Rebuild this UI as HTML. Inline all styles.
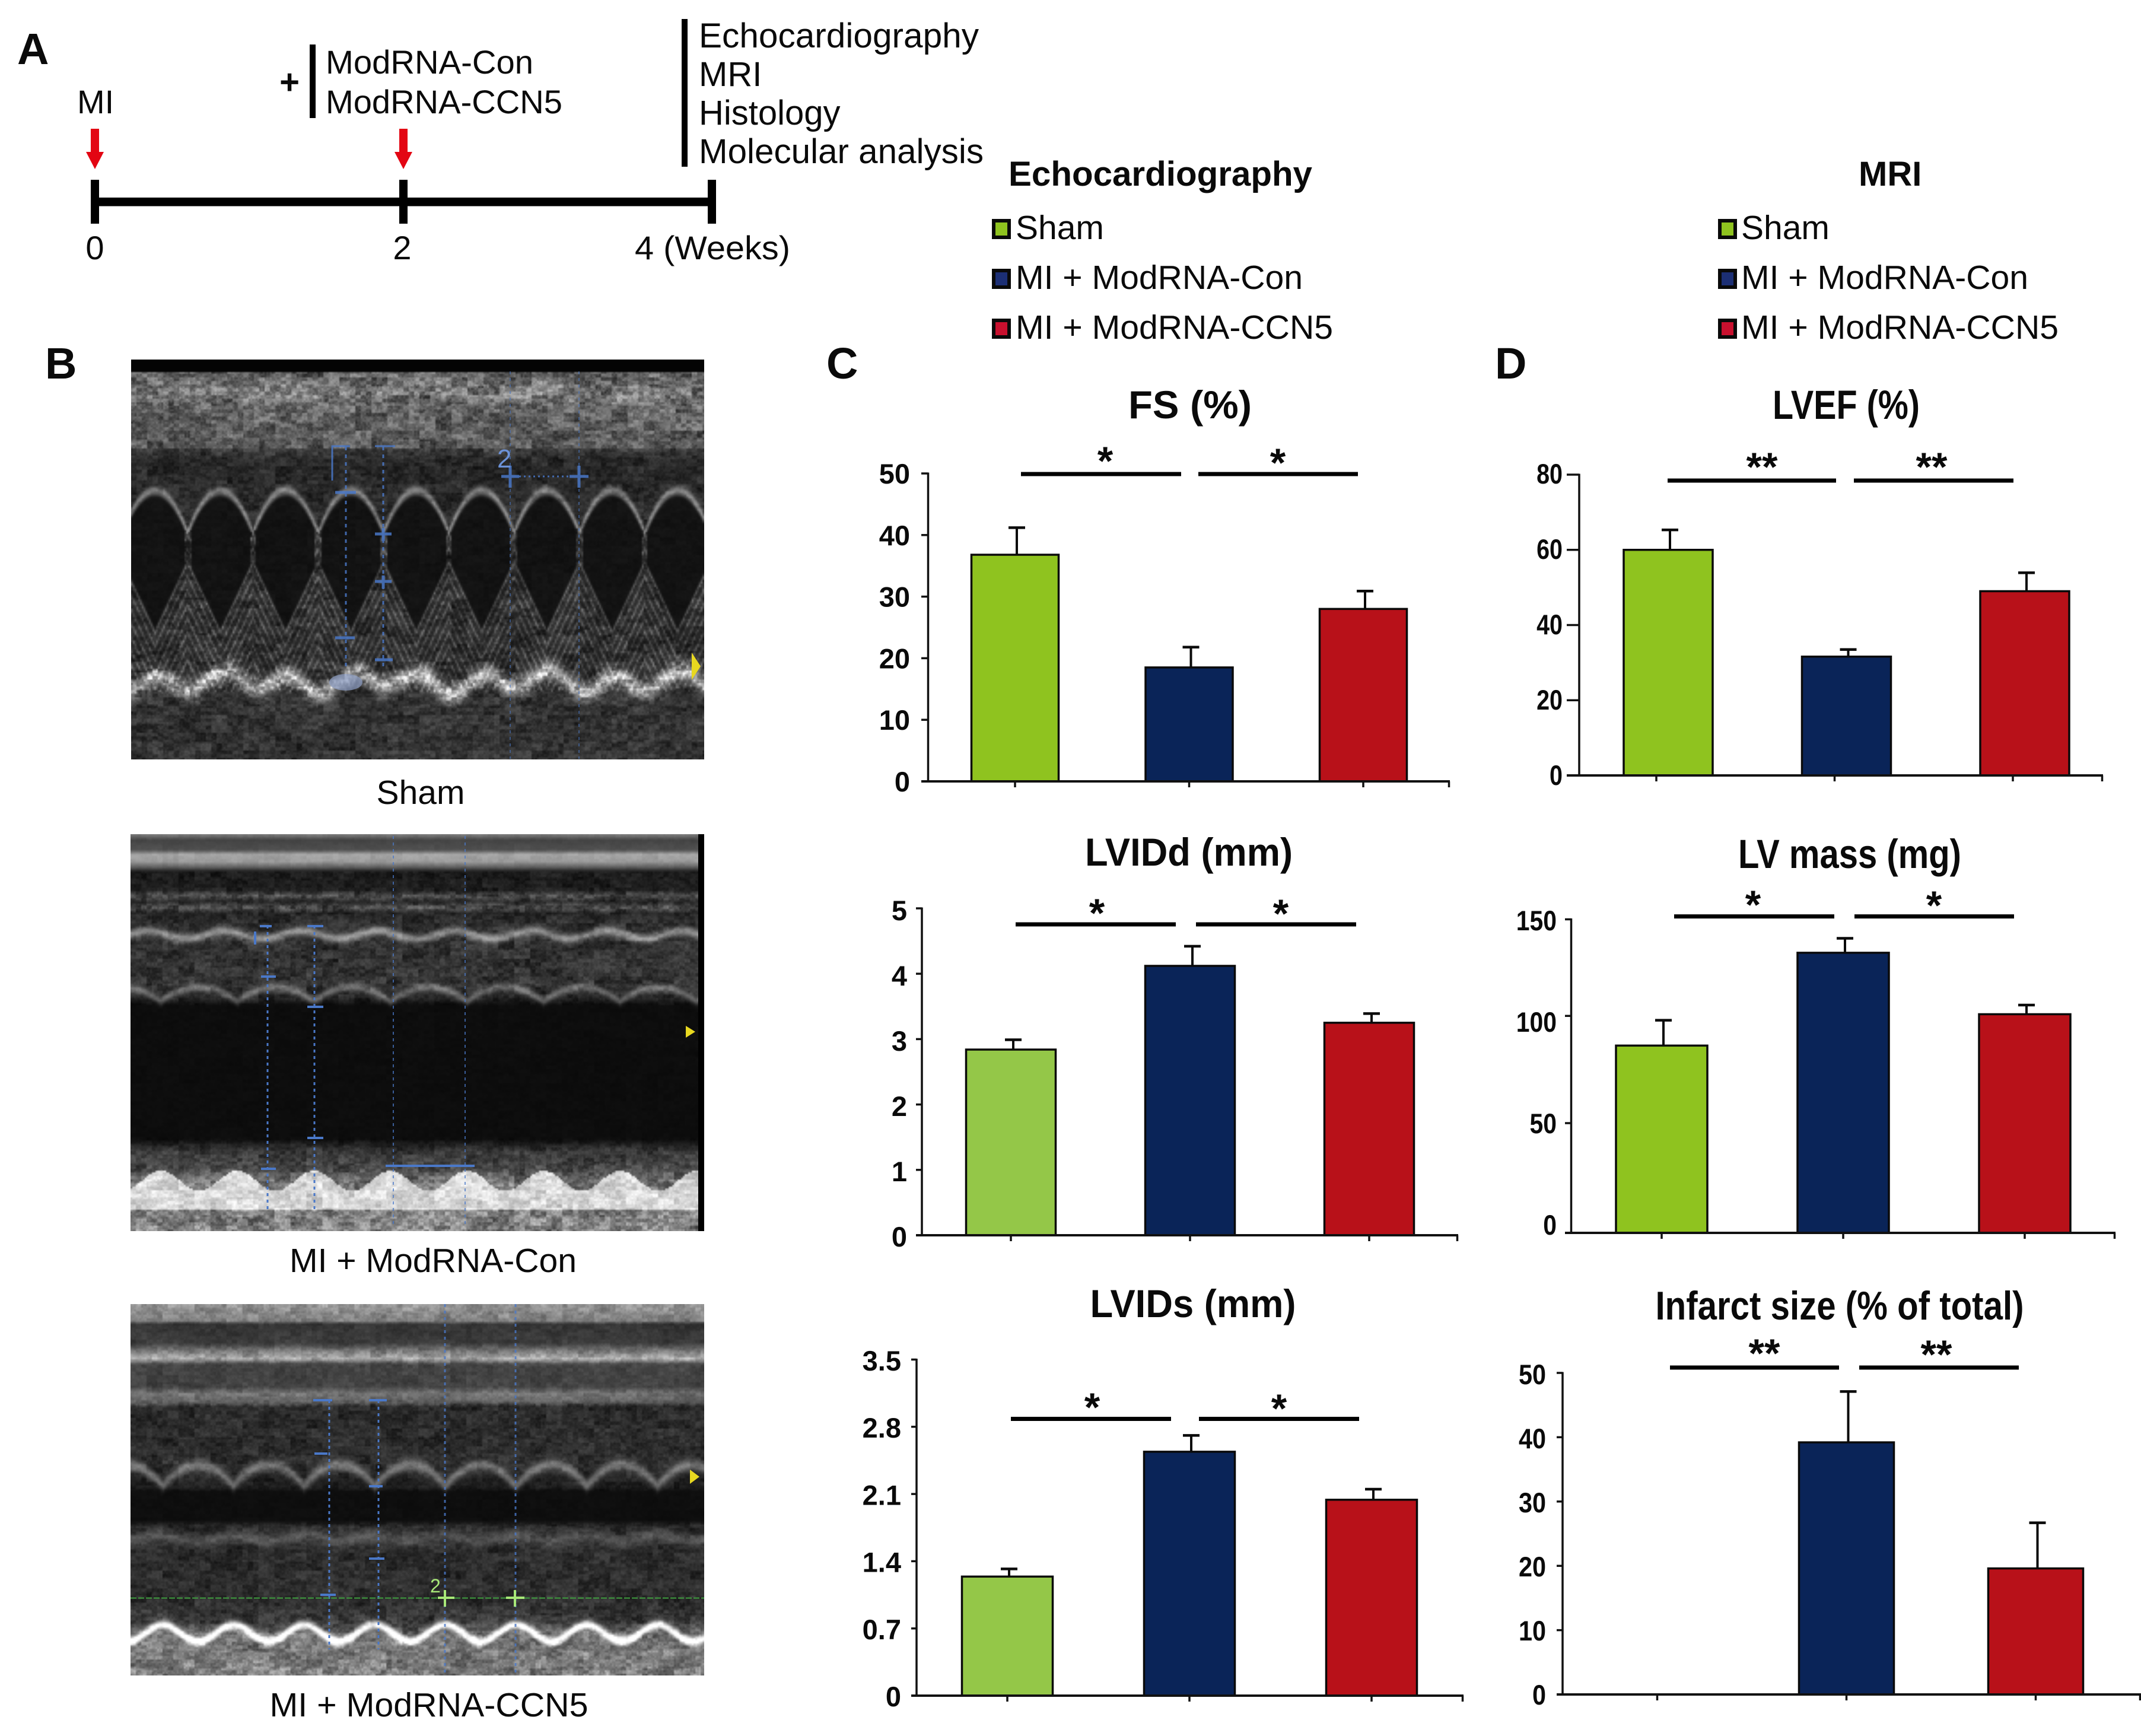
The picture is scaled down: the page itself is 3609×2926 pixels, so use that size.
<!DOCTYPE html>
<html lang="en">
<head>
<meta charset="utf-8">
<title>ModRNA-CCN5 figure</title>
<style>
html,body{margin:0;padding:0;background:#fff;}
#figure{position:relative;width:3609px;height:2926px;overflow:hidden;background:#fff;font-family:"Liberation Sans",Arial,sans-serif;}
canvas{position:absolute;display:block;}
svg{position:absolute;left:0;top:0;}
text{font-family:"Liberation Sans",Arial,sans-serif;fill:#0a0a0a;}
.b{font-weight:bold;}
</style>
</head>
<body>
<div id="figure">
<canvas id="echo-sham" width="322" height="225" style="left:221px;top:606px;width:966px;height:674px"></canvas>
<canvas id="echo-con" width="323" height="223" style="left:220px;top:1406px;width:967px;height:669px"></canvas>
<canvas id="echo-ccn5" width="323" height="209" style="left:220px;top:2198px;width:967px;height:626px"></canvas>

<svg id="canvas" width="3609" height="2926" viewBox="0 0 3609 2926">
  <!-- Panel A timeline -->
  <g>
    <text class="b" x="29" y="108" font-size="74">A</text>
    <text x="130" y="191" font-size="56">MI</text>
    <text class="b" x="488" y="158" font-size="58" text-anchor="middle">+</text>
    <rect x="522" y="75" width="10" height="124" fill="#000"/>
    <text x="549" y="124" font-size="56" textLength="350" lengthAdjust="spacingAndGlyphs">ModRNA-Con</text>
    <text x="549" y="191" font-size="56" textLength="399" lengthAdjust="spacingAndGlyphs">ModRNA-CCN5</text>
    <rect x="1149" y="32" width="10" height="249" fill="#000"/>
    <text x="1178" y="80" font-size="58" textLength="472" lengthAdjust="spacingAndGlyphs">Echocardiography</text>
    <text x="1178" y="145" font-size="58">MRI</text>
    <text x="1178" y="210" font-size="58">Histology</text>
    <text x="1178" y="275" font-size="58" textLength="480" lengthAdjust="spacingAndGlyphs">Molecular analysis</text>
    <g fill="#e30613">
      <path d="M153 217h14v39h8l-15 29-15-29h8z"/>
      <path d="M673 217h14v39h8l-15 29-15-29h8z"/>
    </g>
    <rect x="160" y="333" width="1040" height="14.5" fill="#000"/>
    <rect x="153" y="303" width="14" height="74" fill="#000"/>
    <rect x="673" y="303" width="14" height="74" fill="#000"/>
    <rect x="1193" y="303" width="14" height="74" fill="#000"/>
    <text x="160" y="437" font-size="56" text-anchor="middle">0</text>
    <text x="678" y="437" font-size="56" text-anchor="middle">2</text>
    <text x="1070" y="437" font-size="56" textLength="262" lengthAdjust="spacingAndGlyphs">4 (Weeks)</text>
  </g>

  <!-- Legends -->
  <g>
    <text class="b" x="1700" y="313" font-size="58" textLength="512" lengthAdjust="spacingAndGlyphs">Echocardiography</text>
    <rect x="1675" y="372" width="26" height="28" fill="#8fc31f" stroke="#0a0a0a" stroke-width="6"/>
    <text x="1712" y="403" font-size="57">Sham</text>
    <rect x="1675" y="456" width="26" height="28" fill="#1c2f75" stroke="#0a0a0a" stroke-width="6"/>
    <text x="1712" y="487" font-size="57" textLength="484" lengthAdjust="spacingAndGlyphs">MI + ModRNA-Con</text>
    <rect x="1675" y="540" width="26" height="28" fill="#c8102e" stroke="#0a0a0a" stroke-width="6"/>
    <text x="1712" y="571" font-size="57" textLength="535" lengthAdjust="spacingAndGlyphs">MI + ModRNA-CCN5</text>
  </g>
  <g>
    <text class="b" x="3133" y="313" font-size="58">MRI</text>
    <rect x="2899" y="372" width="26" height="28" fill="#8fc31f" stroke="#0a0a0a" stroke-width="6"/>
    <text x="2935" y="403" font-size="57">Sham</text>
    <rect x="2899" y="456" width="26" height="28" fill="#1c2f75" stroke="#0a0a0a" stroke-width="6"/>
    <text x="2935" y="487" font-size="57" textLength="484" lengthAdjust="spacingAndGlyphs">MI + ModRNA-Con</text>
    <rect x="2899" y="540" width="26" height="28" fill="#c8102e" stroke="#0a0a0a" stroke-width="6"/>
    <text x="2935" y="571" font-size="57" textLength="535" lengthAdjust="spacingAndGlyphs">MI + ModRNA-CCN5</text>
  </g>

  <text class="b" x="76" y="638" font-size="74">B</text>
  <text class="b" x="1393" y="638" font-size="74">C</text>
  <text class="b" x="2520" y="638" font-size="74">D</text>

  <!-- Echo captions -->
  <text x="709" y="1355" font-size="57" text-anchor="middle">Sham</text>
  <text x="730" y="2144" font-size="57" text-anchor="middle" textLength="484" lengthAdjust="spacingAndGlyphs">MI + ModRNA-Con</text>
  <text x="723" y="2893" font-size="57" text-anchor="middle" textLength="537" lengthAdjust="spacingAndGlyphs">MI + ModRNA-CCN5</text>

  <!-- Echo measurement overlays -->
  <g stroke="#4a78c8" fill="none" opacity=".85">
    <path d="M583 753V1130M646 753V1130" stroke-width="3" stroke-dasharray="6 7"/>
    <path d="M860 626V1279M976 626V1279" stroke-width="2" stroke-dasharray="5 6" opacity=".65"/>
    <path d="M565 830H600M632 900H660M632 980H660M646 890V912M646 970V992M565 1075H598M632 1112H662" stroke-width="5"/>
    <path d="M560 810V752H590M632 752H666" stroke-width="3"/>
    <path d="M845 803H875M960 803H992M860 785V822M976 785V822" stroke-width="5"/>
    <path d="M875 803H960" stroke-width="3" stroke-dasharray="3 5"/>
    <ellipse cx="583" cy="1150" rx="28" ry="14" fill="#8fa0c8" stroke="none" opacity=".8"/>
  </g>
  <text x="838" y="788" font-size="44" style="fill:#6c92d8">2</text>
  <path d="M1166 1100l15 23-15 23z" fill="#e8d820"/>

  <g stroke="#4a78c8" fill="none">
    <path d="M451 1560V2044M530 1560V2044" stroke-width="3" stroke-dasharray="5 6"/>
    <path d="M663 1409V2069M784 1409V2069" stroke-width="2" stroke-dasharray="5 6" opacity=".75"/>
    <path d="M438 1561H458M518 1561H545M430 1570V1592M440 1646H465M518 1697H545M518 1918H545M440 1970H465M650 1965H800" stroke-width="4"/>
  </g>
  <path d="M1156 1729l16 10-16 10z" fill="#e8d820"/>
  <rect x="1177" y="1406" width="10" height="669" fill="#000"/>

  <g stroke="#4a78c8" fill="none">
    <path d="M555 2360V2780M638 2360V2780" stroke-width="3" stroke-dasharray="5 6"/>
    <path d="M750 2198V2824M869 2198V2824" stroke-width="3" stroke-dasharray="5 6" opacity=".8"/>
    <path d="M528 2360H560M622 2360H652M530 2450H552M622 2505H645M622 2627H648M540 2688H566" stroke-width="4"/>
  </g>
  <g stroke="#3f9f3f" fill="none">
    <path d="M220 2693.5H1187" stroke-width="2" stroke-dasharray="10 3"/>
    <path d="M738 2693H766M750 2680V2708M853 2693H884M868 2680V2708" stroke-width="4" stroke="#a8e878"/>
  </g>
  <text x="725" y="2684" font-size="32" style="fill:#a8e878">2</text>
  <path d="M1163 2477l16 12-16 12z" fill="#e8d820"/>

  <g id="charts"></g>
</svg>
</div>

<script>
// ---------- chart data ----------
const categories = ['Sham', 'MI + ModRNA-Con', 'MI + ModRNA-CCN5'];

const fsValues = [36.8, 18.5, 28.0];
const fsErrorTops = [41.2, 21.8, 30.9];
const fsTickValues = [0, 10, 20, 30, 40, 50];
const fsTickLabels = ['0', '10', '20', '30', '40', '50'];

const lviddValues = [2.84, 4.12, 3.25];
const lviddErrorTops = [2.99, 4.42, 3.39];
const lviddTickValues = [0, 1, 2, 3, 4, 5];
const lviddTickLabels = ['0', '1', '2', '3', '4', '5'];

const lvidsValues = [1.24, 2.54, 2.04];
const lvidsErrorTops = [1.32, 2.71, 2.15];
const lvidsTickValues = [0, 0.7, 1.4, 2.1, 2.8, 3.5];
const lvidsTickLabels = ['0', '0.7', '1.4', '2.1', '2.8', '3.5'];

const lvefValues = [60.0, 31.6, 49.0];
const lvefErrorTops = [65.3, 33.5, 53.9];
const lvefTickValues = [0, 20, 40, 60, 80];
const lvefTickLabels = ['0', '20', '40', '60', '80'];

const lvmassValues = [89.6, 134.0, 104.6];
const lvmassErrorTops = [101.7, 140.9, 109.0];
const lvmassTickValues = [0, 52.5, 103.8, 150];
const lvmassTickLabels = ['0', '50', '100', '150'];

const infarctValues = [null, 39.2, 19.6];
const infarctErrorTops = [null, 47.1, 26.7];
const infarctTickValues = [0, 10, 20, 30, 40, 50];
const infarctTickLabels = ['0', '10', '20', '30', '40', '50'];

// ---------- chart layout (not data) ----------
const panels = [
  {id:'fs', title:'FS (%)', titleSize:66, titleX:2006, titleY:705, titleW:208, values:fsValues, tops:fsErrorTops, ticks:fsTickValues, labels:fsTickLabels, yMax:50,
   axisX:1564.5, yTop:798, y0:1317, left:1553, end:2444, cat0:1711, step:293.5, barW:147, errDx:3, tickDx:0, labelRight:1534, labelCond:1, label0:1318, labelTop:799,
   sigY:799, sig:[[1721,1991],[2020,2289]], star:'*', starPos:[[1863,768],[2154,771]], green:'#8fc31f'},
  {id:'lvidd', title:'LVIDd (mm)', titleSize:66, titleX:2004, titleY:1459, titleW:350, values:lviddValues, tops:lviddErrorTops, ticks:lviddTickValues, labels:lviddTickLabels, yMax:5,
   axisX:1554, yTop:1531, y0:2082, left:1544, end:2458, cat0:1704, step:302, barW:151, errDx:4, tickDx:0, labelRight:1529, labelCond:1, label0:2085, labelTop:1535,
   sigY:1558, sig:[[1712,1982],[2016,2286]], star:'*', starPos:[[1849,1530],[2159,1531]], green:'#94c748'},
  {id:'lvids', title:'LVIDs (mm)', titleSize:66, titleX:2011, titleY:2220, titleW:347, values:lvidsValues, tops:lvidsErrorTops, ticks:lvidsTickValues, labels:lvidsTickLabels, yMax:3.5,
   axisX:1545, yTop:2291.5, y0:2858, left:1536, end:2467, cat0:1698, step:307, barW:153, errDx:3, tickDx:0, labelRight:1519, labelCond:1, label0:2860, labelTop:2294,
   sigY:2391.5, sig:[[1704,1974],[2021,2291]], star:'*', starPos:[[1841,2363],[2156,2365]], green:'#94c748'},
  {id:'lvef', title:'LVEF (%)', titleSize:69, titleX:3112, titleY:706, titleW:248, values:lvefValues, tops:lvefErrorTops, ticks:lvefTickValues, labels:lvefTickLabels, yMax:80,
   axisX:2662, yTop:800, y0:1307, left:2641, end:3545, cat0:2812, step:300.5, barW:150, errDx:3, tickDx:-20, labelRight:2634, labelCond:0.84, label0:1307, labelTop:799,
   sigY:810, sig:[[2811,3095],[3125,3394]], star:'**', starPos:[[2970,778],[3256,778]], green:'#8fc31f'},
  {id:'lvmass', title:'LV mass (mg)', titleSize:69, titleX:3118, titleY:1463, titleW:376, values:lvmassValues, tops:lvmassErrorTops, ticks:lvmassTickValues, labels:lvmassTickLabels, yMax:150,
   axisX:2648.5, yTop:1549.5, y0:2078, left:2638, end:3566, cat0:2801, step:306, barW:154, errDx:3, tickDx:0, labelRight:2624, labelCond:0.87, label0:2065, labelTop:1552,
   sigY:1544.6, sig:[[2822,3092],[3126,3395]], star:'*', starPos:[[2955,1516],[3260,1517]], green:'#8fc31f'},
  {id:'infarct', title:'Infarct size (% of total)', titleSize:68, titleX:3101, titleY:2224, titleW:621, values:infarctValues, tops:infarctErrorTops, ticks:infarctTickValues, labels:infarctTickLabels, yMax:50,
   axisX:2634, yTop:2314, y0:2856, left:2624, end:3609, cat0:2793.5, step:319, barW:160, errDx:3, tickDx:0, labelRight:2606, labelCond:0.88, label0:2857, labelTop:2317,
   sigY:2305, sig:[[2815,3100],[3134,3403]], star:'**', starPos:[[2974,2272],[3264,2274]], green:'#8fc31f'}
];
const navy = '#0a2458';
const red = '#b81119';

const SVGNS = 'http://www.w3.org/2000/svg';
function mk(tag, attrs, parent, txt) {
  const el = document.createElementNS(SVGNS, tag);
  for (const k in attrs) el.setAttribute(k, attrs[k]);
  if (txt !== undefined) el.textContent = txt;
  parent.appendChild(el);
  return el;
}
function labelWidth(s, cond) {
  let w = 0;
  for (const ch of s) w += (ch === '.' ? 0.278 : 0.556) * 47;
  return w * cond;
}
const root = document.getElementById('charts');

panels.forEach(function (p) {
  const g = mk('g', {}, root);
  
  
  const y = function (v) { return p.y0 - (v / p.yMax) * (p.y0 - p.yTop); };
  const x = function (i) { return p.cat0 + i * p.step; };

  const title = mk('text', {x:p.titleX, y:p.titleY, 'font-size':p.titleSize, 'font-weight':'bold', 'text-anchor':'middle', textLength:p.titleW, lengthAdjust:'spacingAndGlyphs'}, g, p.title);
  
  

  p.values.forEach(function (v, i) {
    if (v === null) return;
    const colors = [p.green, navy, red];
    const ex = x(i) + p.errDx;
    const stem = mk('line', {x1:ex, x2:ex, y1:y(v), y2:y(p.tops[i]), stroke:'#0a0a0a', 'stroke-width':4}, g);
    
    
    const cap = mk('line', {x1:ex - 14, x2:ex + 14, y1:y(p.tops[i]), y2:y(p.tops[i]), stroke:'#0a0a0a', 'stroke-width':4.5}, g);
    
    
    const bar = mk('rect', {x:x(i) - p.barW / 2, y:y(v), width:p.barW, height:p.y0 - y(v), fill:colors[i], stroke:'#0a0a0a', 'stroke-width':3.5}, g);
    
    
    const tip = mk('title', {}, bar, categories[i] + ': ' + v);
    
    
  });

  const yAxis = mk('line', {x1:p.axisX, x2:p.axisX, y1:p.yTop - 1.5, y2:p.y0, stroke:'#111', 'stroke-width':3.5}, g);
  
  
  const xAxis = mk('line', {x1:p.left, x2:p.end, y1:p.y0, y2:p.y0, stroke:'#111', 'stroke-width':4}, g);
  
  

  p.ticks.forEach(function (t, i) {
    const tick = mk('line', {x1:p.left, x2:p.axisX, y1:y(t), y2:y(t), stroke:'#111', 'stroke-width':3.5}, g);
    
    
    const cy = p.label0 + (p.labelTop - p.label0) * i / (p.labels.length - 1);
    const lab = mk('text', {x:p.labelRight, y:cy + 16, 'font-size':47, 'font-weight':'bold', 'text-anchor':'end', textLength:labelWidth(p.labels[i], p.labelCond), lengthAdjust:'spacingAndGlyphs'}, g, p.labels[i]);
    
    
  });

  categories.forEach(function (c, i) {
    const tick = mk('line', {x1:x(i) + p.tickDx, x2:x(i) + p.tickDx, y1:p.y0, y2:p.y0 + 10, stroke:'#111', 'stroke-width':3.5}, g);
    
    
  });
  const endTick = mk('line', {x1:p.end - 1.5, x2:p.end - 1.5, y1:p.y0, y2:p.y0 + 10, stroke:'#111', 'stroke-width':3.5}, g);
  
  

  p.sig.forEach(function (s, i) {
    const line = mk('line', {x1:s[0], x2:s[1], y1:p.sigY, y2:p.sigY, stroke:'#000', 'stroke-width':7}, g);
    
    
    const st = mk('text', {x:p.starPos[i][0], y:p.starPos[i][1] + 32, 'font-size':68, 'font-weight':'bold', 'text-anchor':'middle'}, g, p.star);
    
    
  });
});

// ---------- M-mode echo textures (decorative photographs, not chart data) ----------
function rng(seed) {
  return function () {
    seed |= 0; seed = seed + 0x6D2B79F5 | 0;
    let t = Math.imul(seed ^ seed >>> 15, 1 | seed);
    t = t + Math.imul(t ^ t >>> 7, 61 | t) ^ t;
    return ((t ^ t >>> 14) >>> 0) / 4294967296;
  };
}
function stops(y, s) {
  if (y <= s[0][0]) return s[0][1];
  for (let i = 1; i < s.length; i++) {
    if (y <= s[i][0]) {
      const t = (y - s[i - 1][0]) / (s[i][0] - s[i - 1][0]);
      return s[i - 1][1] + (s[i][1] - s[i - 1][1]) * t;
    }
  }
  return s[s.length - 1][1];
}
function gauss(y, c, w) { const d = (y - c) / w; return Math.exp(-d * d); }
function paint(id, seed, cropX, cropY, sx, sy, left, top, fn) {
  const c = document.getElementById(id), w = c.width, h = c.height;
  const ctx = c.getContext('2d'), img = ctx.createImageData(w, h), r = rng(seed);
  const gw = Math.ceil(w / 3) + 2, gh = Math.ceil(h / 2) + 2, coarse = new Float32Array(gw * gh);
  for (let i = 0; i < coarse.length; i++) coarse[i] = r();
  const bw = Math.ceil(w / 9) + 2, bh = Math.ceil(h / 5) + 2, blotch = new Float32Array(bw * bh);
  for (let i = 0; i < blotch.length; i++) blotch[i] = r();
  for (let py = 0; py < h; py++) {
    for (let px = 0; px < w; px++) {
      const zx = (left + px * 3 - cropX) * sx, zy = (top + py * 3 - cropY) * sy;
      const a = coarse[(py >> 1) * gw + Math.floor(px / 3)], b = r();
      const e = blotch[Math.floor(py / 5) * bw + Math.floor(px / 9)];
      const n = a * 0.4 + b * 0.25 + e * 0.35;
      const res = fn(zx, zy, n);
      const v = Math.max(0, Math.min(255, res));
      const i = (py * w + px) * 4;
      img.data[i] = img.data[i + 1] = img.data[i + 2] = v;
      img.data[i + 3] = 255;
    }
  }
  ctx.putImageData(img, 0, 0);
}

paint('echo-sham', 11, 200, 580, 1.5077, 1.96, 221, 606, function (x, y, n) {
  if (y < 90) return 4;
  const ph = (x - 90) / 166, d = Math.abs(ph - Math.round(ph)) * 2;
  const top = 490 + 140 * d * d, bot = 950 - 230 * d;
  const yb = 1115 + 28 * Math.sin(x / 166 * 6.283 + 1) + 12 * Math.sin(x / 61);
  const noise = 0.3 + 1.4 * n;
  if (d < 0.9 && y > top && y < bot) return 13 + 12 * n + 70 * gauss(y, top, 9) + 60 * gauss(y, bot, 9);
  if (y < 340) {
    const v = stops(y, [[90, 100], [130, 110], [170, 125], [200, 100], [340, 88]]);
    return v * noise;
  }
  if (y <= top) {
    const v = stops(y, [[340, 62], [380, 40], [470, 42], [620, 48]]);
    return v * noise + 85 * gauss(y, top - 10, 14);
  }
  let v = 42 + 38 * Math.max(0, Math.cos((y - bot) / 46 * 6.283));
  if (y > 1145) v = 52;
  v *= noise;
  v += 125 * gauss(y, yb, 30) * (0.4 + 1.2 * n);
  return v;
});

paint('echo-con', 23, 200, 1390, 1.5077, 2.063, 220, 1406, function (x, y, n) {
  const base = stops(y, [[33, 120], [50, 68], [85, 80], [100, 165], [125, 155], [145, 92], [160, 28], [225, 32], [245, 78], [265, 38], [285, 85], [305, 38], [345, 48], [555, 52], [600, 38], [625, 12], [1090, 12], [1130, 55], [1190, 72], [1250, 120], [1413, 130]]);
  const ph = (x - 105) / 195, d = Math.abs(ph - Math.round(ph)) * 2;
  const ya = 380 + 14 * Math.sin(x / 195 * 6.283 + 2.4);
  const yw = 562 + 50 * (1 - d) * (1 - d);
  const yt = 1235 - 35 * Math.cos((x - 300) / 195 * 6.283);
  let v;
  if (y < 160) v = base * (0.92 + 0.16 * n);
  else if (y < 625) v = base * (0.3 + 1.4 * n);
  else if (y < 1090) v = base * (0.8 + 0.6 * n);
  else v = base * (0.4 + 1.2 * n);
  v += 95 * gauss(y, ya, 15);
  v += 65 * gauss(y, yw, 14);
  if (y > yt && y < 1335) v = Math.max(v, 165 + 100 * n);
  return v;
});

paint('echo-ccn5', 37, 200, 2180, 1.5077, 2.119, 220, 2198, function (x, y, n) {
  const base = stops(y, [[40, 150], [95, 125], [106, 52], [175, 60], [200, 115], [230, 175], [250, 68], [330, 66], [355, 115], [385, 95], [402, 42], [600, 46], [690, 30], [705, 13], [810, 13], [830, 42], [1090, 46], [1170, 58], [1230, 105], [1365, 125]]);
  const ph = (x - 110) / 180, d = Math.abs(ph - Math.round(ph)) * 2;
  const yw = 610 + 75 * (1 - d) * (1 - d);
  const yb = 1212 - 30 * Math.cos((x - 110) / 180 * 6.283);
  let v;
  if (y < 390) v = base * (0.7 + 0.6 * n);
  else if (y > 700 && y < 815) v = base * (0.8 + 0.6 * n);
  else v = base * (0.35 + 1.3 * n);
  v += 75 * gauss(y, yw, 20);
  v += 40 * gauss(y, 860 + 25 * d, 22);
  v += 195 * gauss(y, yb, 16);
  if (y > yb && y > 1200) v = Math.max(v, 120 * (0.5 + 1.0 * n));
  return v;
});
</script>
</body>
</html>
